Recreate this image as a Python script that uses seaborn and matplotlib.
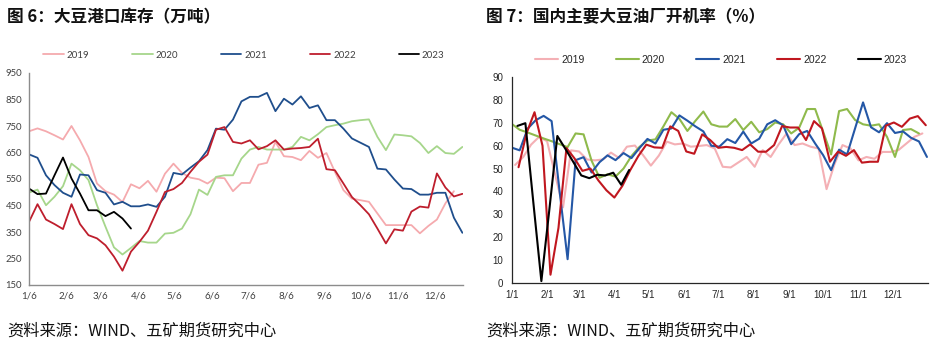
import numpy as np
import pandas as pd
import matplotlib
matplotlib.use("Agg")
import matplotlib.pyplot as plt
import seaborn as sns

# ---------------- data ----------------
years = ["2019", "2020", "2021", "2022", "2023"]

# 图6 大豆港口库存（万吨）, weekly from 1/6
stock_2019 = [730, 741, 730, 715, 699, 750, 696, 633, 533, 504, 491, 463, 530, 515, 543, 502,
              570, 608, 573, 555, 549, 533, 555, 553, 504, 535, 535, 604, 611, 690, 636, 633,
              621, 656, 630, 648, 577, 508, 476, 470, 464, 420, 376, 376, 376, 376, 345, 373,
              397, 458, 504]
stock_2020 = [499, 510, 451, 483, 523, 608, 583, 546, 451, 370, 292, 265, 290, 316, 310, 310,
              344, 347, 363, 417, 510, 490, 558, 564, 564, 627, 661, 671, 661, 661, 661, 671,
              709, 696, 719, 746, 753, 759, 768, 772, 775, 709, 659, 718, 715, 711, 686, 648,
              674, 648, 645, 671]
stock_2021 = [643, 630, 564, 527, 498, 483, 567, 564, 508, 498, 454, 464, 447, 447, 454, 445,
              483, 573, 567, 593, 617, 659, 740, 736, 774, 843, 860, 860, 875, 806, 853, 831,
              862, 818, 828, 772, 772, 740, 703, 687, 671, 589, 586, 548, 514, 512, 491, 491,
              498, 498, 404, 347]
stock_2022 = [388, 455, 397, 380, 361, 455, 380, 338, 326, 300, 257, 204, 276, 313, 355, 426,
              501, 512, 535, 577, 615, 642, 736, 746, 690, 684, 696, 662, 674, 696, 661, 665,
              667, 671, 702, 587, 583, 533, 482, 451, 417, 363, 307, 360, 355, 427, 446, 442,
              571, 518, 484, 494]
stock_2023 = [514, 493, 495, 564, 631, 552, 495, 432, 432, 410, 426, 401, 363]
stock_start = "2021-01-06"
stock_tick_labels = ["1/6", "2/6", "3/6", "4/6", "5/6", "6/6", "7/6", "8/6", "9/6", "10/6", "11/6", "12/6"]
stock_yticks = [150, 250, 350, 450, 550, 650, 750, 850, 950]

# 图7 国内主要大豆油厂开机率（%）, weekly
rate_2019 = [51.6, 55, 60.5, 63.9, 62, 47.5, 33, 58, 57.5, 54, 53.6, 54, 57, 54.7, 59.6, 60.1,
             56, 51.3, 55.7, 61.8, 60.6, 61, 59.6, 59.9, 60.3, 58.8, 50.8, 50.5, 52.8, 55.1, 50.8,
             58.1, 55.1, 60.6, 65.4, 60.3, 61, 59.6, 58.8, 41, 52, 60.3, 58.8, 53.6, 55.1, 54.3,
             57.3, 57.3, 58.1, 61, 63.9, 65.4]
rate_2020 = [69.6, 67, 65.8, 64.5, 63.2, 62, 60.7, 59.4, 65.4, 65, 53.5, 46, 47.5, 46.5, 50, 55.5,
             59.5, 62.3, 62.8, 68.5, 74.7, 71.8, 66.5, 70.9, 75, 69.4, 68.4, 68.4, 71.7, 66.9, 70.5,
             65.9, 67.3, 70.2, 69.4, 65.4, 67.9, 76.1, 76.1, 66.2, 56.2, 75.2, 76.1, 71.3, 69.4,
             68.8, 69.4, 63.9, 55.1, 66.9, 67.3, 65.4]
rate_2021 = [59.2, 58, 67.5, 71.2, 73.1, 70.8, 40, 10.3, 53.7, 55, 48.3, 52.8, 55.8, 53.7, 56.8,
             54.6, 59, 63, 61, 67, 67.6, 73.3, 71, 68.5, 66.3, 60, 59.6, 62.9, 61.2, 66.2, 61,
             63.1, 69.4, 71.2, 68.9, 60.7, 65.1, 66.5, 61, 55.9, 49.3, 58.3, 56.2, 67.6, 79,
             68.1, 65.9, 69.9, 65.6, 66.3, 63.5, 61.9, 55.1]
rate_2022 = [50.6, 65.5, 74.7, 60, 3.5, 24, 59, 54.5, 49, 50, 44.8, 40.5, 37.3, 42.4, 49.4, 55.5,
             60.5, 59.3, 59.1, 68.5, 66.5, 57.5, 56.5, 65, 62.5, 59.1, 59.5, 59.1, 58.1, 60.6,
             57.4, 57.4, 60.3, 68.6, 68, 68, 62.5, 70.8, 67.6, 53, 57.4, 55.6, 58.1, 52.6, 53,
             53, 68.8, 70.2, 68.3, 71.9, 73, 69]
rate_2023 = [68.7, 69.9, 35, 0.7, 32, 64.3, 58.7, 52.9, 47, 45.8, 47.3, 47, 48.2, 42.9, 49.4]
rate_starts = ["2021-01-04", "2021-01-01", "2021-01-01", "2021-01-07", "2021-01-06"]
rate_tick_labels = ["1/1", "2/1", "3/1", "4/1", "5/1", "6/1", "7/1", "8/1", "9/1", "10/1", "11/1", "12/1"]
rate_yticks = [0, 10, 20, 30, 40, 50, 60, 70, 80, 90]

stock_colors = ["#F5AAAE", "#A6D68B", "#1F4E8C", "#BE1E2D", "#000000"]
rate_colors = ["#F4B0B5", "#8FBA4C", "#2457A6", "#C0171F", "#000000"]


def long_frame(series, starts):
    parts = []
    for yr, vals, st in zip(years, series, starts):
        d = pd.date_range(st, periods=len(vals), freq="7D")
        parts.append(pd.DataFrame({"date": d, "value": vals, "year": yr}))
    return pd.concat(parts, ignore_index=True)


stock_df = long_frame([stock_2019, stock_2020, stock_2021, stock_2022, stock_2023], [stock_start] * 5)
rate_df = long_frame([rate_2019, rate_2020, rate_2021, rate_2022, rate_2023], rate_starts)

# ---------------- style ----------------
sns.set_theme(style="white")
plt.rcParams["font.family"] = ["Noto Sans CJK SC", "DejaVu Sans"]

W, H = 933, 342
fig = plt.figure(figsize=(W / 100, H / 100), dpi=100)


def fx(px):
    return px / W


def fy(py):
    return 1 - py / H


# ---------------- left panel ----------------
axL = fig.add_axes([fx(29), fy(285), fx(463) - fx(29), fy(73) - fy(285)])
sns.lineplot(data=stock_df, x="date", y="value", hue="year", palette=stock_colors,
             linewidth=1.3, ax=axL, errorbar=None)
axL.set_ylim(150, 950)
axL.set_yticks(stock_yticks)
axL.set_xlim(pd.Timestamp("2021-01-06"), pd.Timestamp("2021-12-29 12:00"))
tickdates = [pd.Timestamp(2021, m, 6) for m in range(1, 13)]
axL.set_xticks(tickdates)
axL.set_xticklabels(stock_tick_labels)
axL.set_xlabel("")
axL.set_ylabel("")
for s in ["top", "right"]:
    axL.spines[s].set_visible(False)
for s in ["left", "bottom"]:
    axL.spines[s].set_color("#8c8c8c")
    axL.spines[s].set_linewidth(1.0)
axL.tick_params(axis="y", length=0, pad=5, labelsize=6.8, labelcolor="#404040")
axL.tick_params(axis="x", length=3, width=0.8, color="#8c8c8c", direction="out", pad=2,
                labelsize=7, labelcolor="#404040")
for lab in axL.get_xticklabels() + axL.get_yticklabels():
    lab.set_family(["Lato", "DejaVu Sans"])
h, l = axL.get_legend_handles_labels()
axL.legend(h, l, ncol=5, frameon=False, loc="center",
           bbox_to_anchor=(fx(244), fy(55)), bbox_transform=fig.transFigure,
           handlelength=2.1, handletextpad=0.3, columnspacing=4.4,
           prop={"family": ["Lato", "DejaVu Sans"], "size": 7})
for t in axL.get_legend().get_texts():
    t.set_color("#404040")

# ---------------- right panel ----------------
axR = fig.add_axes([fx(511.7), fy(282.7), fx(927.7) - fx(511.7), fy(77.3) - fy(282.7)])
sns.lineplot(data=rate_df, x="date", y="value", hue="year", palette=rate_colors,
             linewidth=1.5, ax=axR, errorbar=None)
axR.set_ylim(0, 90)
axR.set_yticks(rate_yticks)
axR.set_xlim(pd.Timestamp("2021-01-01"), pd.Timestamp("2021-12-31 16:00"))
tickdatesR = [pd.Timestamp(2021, m, 1) for m in range(1, 13)]
axR.set_xticks(tickdatesR)
axR.set_xticklabels(rate_tick_labels)
axR.set_xlabel("")
axR.set_ylabel("")
for s in ["top", "right"]:
    axR.spines[s].set_visible(False)
for s in ["left", "bottom"]:
    axR.spines[s].set_color("#262626")
    axR.spines[s].set_linewidth(0.9)
axR.tick_params(axis="y", length=4, width=0.8, color="#262626", direction="out", pad=2,
                labelsize=7, labelcolor="#262626")
axR.tick_params(axis="x", length=3, width=0.8, color="#262626", direction="out", pad=2.5,
                labelsize=7, labelcolor="#262626")
for lab in axR.get_xticklabels() + axR.get_yticklabels():
    lab.set_family(["Liberation Sans", "DejaVu Sans"])
h, l = axR.get_legend_handles_labels()
axR.legend(h, l, ncol=5, frameon=False, loc="center",
           bbox_to_anchor=(fx(721), fy(60)), bbox_transform=fig.transFigure,
           handlelength=2.2, handletextpad=0.3, columnspacing=3.0,
           prop={"family": ["Liberation Sans", "DejaVu Sans"], "size": 7.5})
for t in axR.get_legend().get_texts():
    t.set_color("#262626")

# ---------------- titles & footers ----------------
fig.text(fx(7), fy(17), "图 6：大豆港口库存（万吨）", fontsize=12, fontweight="bold",
         va="center", ha="left", color="#111111")
fig.text(fx(486), fy(17), "图 7：国内主要大豆油厂开机率（%）", fontsize=12, fontweight="bold",
         va="center", ha="left", color="#111111")
fig.text(fx(7), fy(331), "资料来源：WIND、五矿期货研究中心", fontsize=11.7,
         va="center", ha="left", color="#111111")
fig.text(fx(486), fy(331), "资料来源：WIND、五矿期货研究中心", fontsize=11.7,
         va="center", ha="left", color="#111111")

fig.savefig("out.png", dpi=100)
